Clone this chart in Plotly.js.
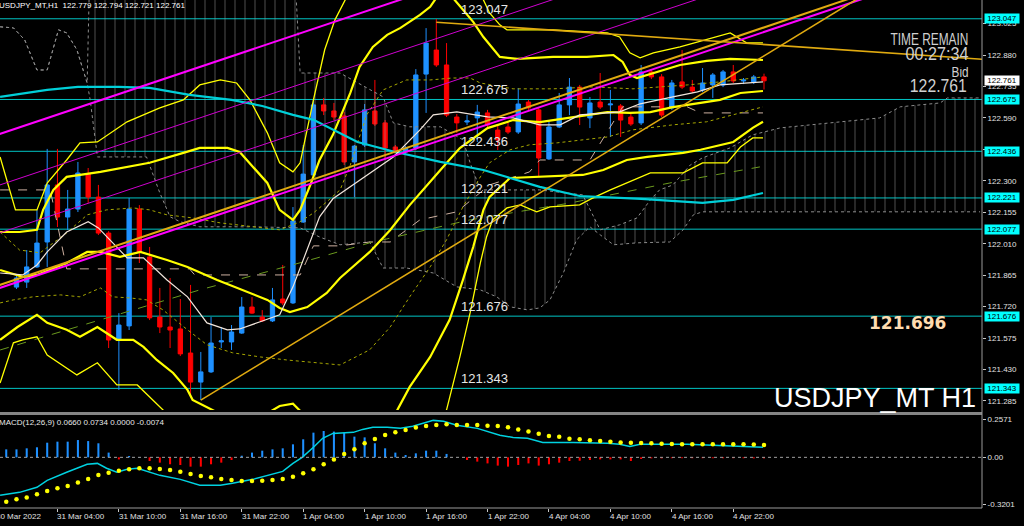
<!DOCTYPE html>
<html>
<head>
<meta charset="utf-8">
<script src="https://cdn.plot.ly/plotly-3.0.1.min.js"></script>
<style>
html,body{margin:0;padding:0;background:#000;overflow:hidden;}
#chart{width:1024px;height:526px;}
</style>
</head>
<body>
<div id="chart"></div>
<script>
// ================= DATA =================
// x = bar index (0 = 30 Mar 22:00, one bar per hour, weekend removed)
const tickIdx  = [0,6,12,18,24,30,36,42,48,54,60,66,72];
const tickText = ['30 Mar 2022','31 Mar 04:00','31 Mar 10:00','31 Mar 16:00','31 Mar 22:00','1 Apr 04:00','1 Apr 10:00','1 Apr 16:00','1 Apr 22:00','4 Apr 04:00','4 Apr 10:00','4 Apr 16:00','4 Apr 22:00'];
const priceTicks = [123.025,122.880,122.735,122.590,122.445,122.300,122.155,122.010,121.865,121.720,121.575,121.430,121.285];
const levels = [123.047,122.675,122.436,122.221,122.077,121.676,121.343];
const levelText = ['123.047','122.675','122.436','122.221','122.077','121.676','121.343'];
const bidPrice = 122.761;
const macdTicks = [0.2571,0,-0.3201];
const macdTickText = ['0.2571','0.00','-0.3201'];

// candles
const barIdx = [2,3,4,5,6,7,8,9,10,11,12,13,14,15,16,17,18,19,20,21,22,23,24,25,26,27,28,29,30,31,32,33,34,35,36,37,38,39,40,41,42,43,44,45,46,47,48,49,50,51,52,53,54,55,56,57,58,59,60,61,62,63,64,65,66,67,68,69,70,71,72,73,74,75];
const barOpen = [121.810,121.833,121.903,122.018,122.281,122.133,122.170,122.331,122.225,122.059,121.566,121.631,122.170,121.949,121.672,121.626,121.617,121.506,121.372,121.419,121.557,121.557,121.598,121.718,121.672,121.654,121.755,121.737,122.110,122.327,122.650,122.622,122.599,122.387,122.465,122.622,122.567,122.456,122.433,122.451,122.792,122.903,122.834,122.594,122.571,122.590,122.613,122.534,122.548,122.525,122.663,122.627,122.401,122.548,122.650,122.732,122.590,122.663,122.650,122.645,122.594,122.567,122.802,122.779,122.636,122.756,122.732,122.719,122.742,122.742,122.802,122.760,122.756,122.779];
const barHigh = [121.861,121.981,122.165,122.447,122.447,122.258,122.387,122.359,122.281,122.068,121.690,122.221,122.188,121.995,121.806,121.852,121.755,121.820,121.511,121.672,121.626,121.635,121.764,121.764,121.704,121.806,121.912,122.179,122.465,122.673,122.682,122.659,122.617,122.465,122.654,122.765,122.580,122.465,122.460,122.815,123.004,123.046,122.935,122.608,122.603,122.650,122.627,122.557,122.567,122.728,122.673,122.640,122.580,122.705,122.774,122.742,122.686,122.797,122.719,122.654,122.608,122.834,122.811,122.792,122.765,122.903,122.765,122.820,122.797,122.811,122.834,122.774,122.788,122.794];
const barLow = [121.801,121.806,121.898,121.903,122.087,122.073,122.156,122.198,122.050,121.529,121.336,121.612,121.921,121.658,121.598,121.529,121.492,121.303,121.289,121.414,121.529,121.520,121.594,121.686,121.649,121.649,121.727,121.732,122.106,122.322,122.603,122.580,122.373,122.225,122.456,122.553,122.396,122.428,122.424,122.442,122.613,122.825,122.594,122.520,122.557,122.479,122.548,122.442,122.516,122.516,122.627,122.318,122.396,122.543,122.603,122.557,122.543,122.631,122.502,122.502,122.553,122.557,122.769,122.594,122.627,122.723,122.705,122.709,122.682,122.732,122.751,122.746,122.746,122.721];
const barClose = [121.852,121.903,122.013,122.281,122.133,122.170,122.336,122.225,122.059,121.566,121.635,122.170,121.972,121.668,121.626,121.612,121.502,121.372,121.419,121.552,121.562,121.603,121.718,121.690,121.654,121.751,121.737,122.115,122.331,122.650,122.622,122.594,122.387,122.460,122.627,122.562,122.451,122.437,122.451,122.788,122.935,122.834,122.603,122.567,122.576,122.617,122.557,122.488,122.525,122.654,122.636,122.405,122.548,122.650,122.732,122.640,122.659,122.640,122.654,122.580,122.562,122.802,122.779,122.603,122.751,122.732,122.714,122.751,122.788,122.802,122.760,122.765,122.779,122.761];

// moving averages
const cyanMaX = [0.4,5.0,8.0,12.0,15.0,18.9,23.0,26.0,29.0,31.0,35.3,39.0,43.4,47.6,53.1,57.0,63.0,69.0,72.0,74.9];
const cyanMaY = [122.687,122.719,122.733,122.733,122.728,122.696,122.673,122.645,122.604,122.581,122.479,122.433,122.387,122.350,122.272,122.230,122.217,122.198,122.212,122.244];
const whiteMaX = [0.4,2.6,4.0,5.0,6.9,9.0,10.0,11.1,12.8,14.4,16.7,18.7,20.6,22.6,23.8,25.8,27.7,29.0,30.4,31.6,32.9,36.5,38.8,41.4,42.7,45.0,48.0,50.5,53.1,55.1,57.0,60.9,62.9,66.1,68.5,70.7,74.9];
const whiteMaY = [121.875,121.866,121.912,121.972,122.064,122.111,122.083,122.028,121.945,121.945,121.843,121.765,121.645,121.613,121.617,121.650,121.682,121.811,121.982,122.134,122.217,122.337,122.410,122.535,122.604,122.618,122.595,122.590,122.558,122.558,122.604,122.618,122.655,122.687,122.710,122.742,122.756];

// yellow bands
const bandMidX = [0.4,2.6,4.0,6.9,8.9,10.2,12.1,14.1,16.7,18.7,21.6,24.8,26.5,27.7,28.7,30.4,32.3,33.6,36.5,38.5,40.4,43.4,45.3,48.0,50.5,53.1,56.4,59.7,61.9,63.9,66.1,68.8,70.7,72.7,74.9];
const bandMidY = [121.889,121.857,121.866,121.921,121.972,121.972,121.949,121.972,121.935,121.903,121.843,121.783,121.751,121.714,121.695,121.718,121.783,121.852,121.972,122.073,122.188,122.350,122.451,122.543,122.580,122.571,122.594,122.617,122.613,122.617,122.640,122.659,122.673,122.705,122.714];
const bandUp2X = [0.4,2.3,4.0,4.6,5.6,6.9,10.2,12.8,15.0,18.3,19.9,22.6,23.8,25.1,26.5,27.7,29.0,29.7,30.7,31.6,32.9,34.6,35.5,36.8,38.2,39.5,41.4,42.4,43.4,44.5,45.6,46.6,47.6,49.2,50.9,54.4,57.7,60.3,61.2,61.9,62.6,64.2,66.8,69.4,71.7,74.9];
const bandUp2Y = [122.064,122.064,122.074,122.166,122.258,122.318,122.341,122.364,122.383,122.429,122.452,122.452,122.433,122.364,122.290,122.166,122.120,122.166,122.281,122.396,122.512,122.705,122.825,122.917,122.973,123.005,123.065,123.102,123.171,123.150,123.088,123.033,122.963,122.871,122.862,122.871,122.871,122.880,122.848,122.788,122.774,122.797,122.834,122.853,122.862,122.857];
const bandLo2X = [0.4,2.1,4.0,5.0,6.9,8.2,9.9,11.8,13.4,14.4,15.7,17.3,18.7,19.2,21.9,24.8,27.7,29.0,30.7,32.9,35.5,38.2,39.2,40.4,42.4,44.3,45.6,46.6,47.6,48.2,50.2,52.8,57.3,59.3,61.6,63.6,67.1,68.8,72.0,73.9,74.9];
const bandLo2Y = [121.567,121.626,121.682,121.645,121.613,121.581,121.626,121.567,121.567,121.534,121.474,121.414,121.336,121.290,121.225,121.179,121.262,121.272,121.193,121.120,121.046,121.152,121.244,121.350,121.488,121.659,121.843,121.995,122.166,122.226,122.313,122.318,122.327,122.350,122.396,122.410,122.429,122.443,122.479,122.544,122.572];
const bandUp3X = [0.4,1.9,4.0,5.0,6.9,8.2,9.9,12.8,16.0,18.3,19.9,21.9,23.5,24.8,26.5,27.7,29.0,29.7,31.0,32.1,33.1,34.1,35.6,39.5,43.4,46.3,47.6,48.2,49.2,49.9,54.4,59.7,60.9,61.9,62.9,64.2,66.8,69.4,71.7,73.3,74.9];
const bandUp3Y = [122.410,122.166,122.166,122.290,122.396,122.475,122.479,122.572,122.636,122.673,122.742,122.765,122.751,122.673,122.521,122.383,122.341,122.383,122.673,122.904,123.042,123.134,123.318,123.503,123.503,123.226,123.134,123.074,123.019,122.996,122.996,122.982,122.963,122.890,122.867,122.890,122.917,122.950,122.982,122.936,122.936];
const bandLo3X = [0.4,1.7,2.6,4.0,5.0,7.9,9.9,11.8,13.8,15.3,18.3,21.9,24.8,27.7,29.0,31.0,34.1,39.5,43.4,44.0,45.3,46.3,47.3,47.9,48.5,49.9,51.2,52.8,54.1,57.0,58.3,60.0,61.6,63.9,67.1,69.0,71.4,72.7,73.9,74.9];
const bandLo3Y = [121.368,121.553,121.567,121.581,121.497,121.405,121.461,121.359,121.359,121.290,121.152,120.912,120.894,121.046,121.050,120.829,120.645,120.755,121.198,121.244,121.488,121.691,121.922,122.041,122.120,122.175,122.189,122.157,122.180,122.189,122.221,122.258,122.290,122.337,122.337,122.383,122.383,122.456,122.498,122.498];

// dotted olive envelopes
const dotUpX = [0.4,2.3,4.3,6.9,8.9,10.8,13.4,15.0,16.7,19.2,21.9,25.1,27.7,29.7,31.0,32.3,33.6,34.6,36.2,37.8,40.1,42.4,44.6,46.3,47.3,50.5,54.4,58.3,62.2,67.5,70.7,74.9];
const dotUpY = [122.064,121.981,121.968,122.060,122.143,122.166,122.175,122.166,122.143,122.129,122.106,122.088,122.074,122.111,122.152,122.203,122.258,122.373,122.604,122.719,122.765,122.765,122.774,122.774,122.751,122.724,122.724,122.733,122.724,122.742,122.756,122.779];
const dotLoX = [0.4,1.7,3.6,6.3,8.2,10.2,11.4,13.1,14.7,16.3,18.7,20.6,23.1,25.8,28.4,31.0,33.6,36.5,38.5,40.4,42.4,44.0,45.6,47.3,48.2,50.2,52.1,54.8,57.7,59.7,62.2,66.1,69.4,72.7,74.9];
const dotLoY = [121.737,121.751,121.765,121.774,121.765,121.806,121.765,121.760,121.751,121.705,121.613,121.544,121.507,121.488,121.474,121.461,121.451,121.521,121.626,121.765,121.903,122.028,122.180,122.318,122.383,122.443,122.466,122.475,122.489,122.502,122.535,122.558,122.572,122.613,122.641];

// long dashed green average
const greenX = [0.4,10.2,19.9,29.7,36.5,46.3,56.1,65.8,74.6];
const greenY = [121.520,121.659,121.797,121.922,122.014,122.120,122.198,122.290,122.364];

// kijun-like dashed step line
const kijunX = [0.4,5.3,6.9,18.9,19.4,29.7,31.0,33.6,36.5,38.5,41.4,45.0,48.2,52.1,53.1,58.0,61.2,67.5,68.8,74.9];
const kijunY = [122.258,122.258,121.894,121.894,121.866,121.866,122.000,122.000,122.018,122.018,122.120,122.157,122.281,122.341,122.396,122.396,122.641,122.641,122.613,122.613];

// cloud boundaries
const cloudTopX = [0.4,1.7,2.8,4.0,5.0,6.1,6.9,7.9,8.9,9.1,29.3,29.7,33.6,35.3,37.8,38.8,40.4,43.4,45.6,46.3,47.3,53.1,57.3,59.0,60.9,62.6,63.9,64.8,66.1,67.8,69.0,71.7,73.9,76.6,86.3,88.3,92.2,92.9,96.1];
const cloudTopY = [123.010,123.005,122.950,122.811,122.811,122.996,122.982,122.904,122.751,123.157,123.157,122.797,122.797,122.751,122.687,122.567,122.549,122.549,122.489,122.383,122.258,122.258,122.235,122.074,122.097,122.129,122.212,122.258,122.281,122.373,122.406,122.452,122.512,122.544,122.590,122.641,122.659,122.682,122.682];
const cloudBotX = [0.4,1.7,2.8,4.0,5.0,6.1,6.9,7.9,8.9,9.2,9.9,14.7,16.0,17.0,18.0,19.9,25.1,29.7,31.6,33.6,36.5,37.8,40.1,42.7,45.0,47.3,48.9,50.2,51.9,53.1,54.1,55.4,56.7,58.0,59.0,60.3,62.6,65.8,67.1,68.1,69.0,96.1];
const cloudBotY = [123.010,123.005,122.950,122.811,122.811,122.996,122.982,122.904,122.751,122.673,122.410,122.410,122.244,122.134,122.111,122.088,122.088,122.083,122.041,122.005,122.018,121.898,121.898,121.875,121.811,121.797,121.765,121.719,121.705,121.714,121.751,121.875,122.028,122.088,122.051,122.005,122.014,122.018,122.074,122.143,122.157,122.157];

// trend lines (two anchor points each)
const magThickAX = [0,41.4],  magThickAY = [122.510,123.165];
const magThinAX  = [0,56.05], magThinAY  = [122.275,123.162];
const magThinBX  = [0,70.7],  magThinBY  = [122.054,123.172];
const magThickBX = [0,86.3],  magThickBY = [121.800,123.165];
const goldAX = [0,86.3],  goldAY = [121.814,123.187];
const goldBX = [20,86.3], goldBY = [121.289,123.202];
const goldCX = [43,98],   goldCY = [123.031,122.855];

// MACD panel
const macdIdx = [1,2,3,4,5,6,7,8,9,10,11,12,13,14,15,16,17,18,19,20,21,22,23,24,25,26,27,28,29,30,31,32,33,34,35,36,37,38,39,40,41,42,43,44,45,46,47,48,49,50,51,52,53,54,55,56,57,58,59,60,61,62,63,64,65,66,67,68,69,70,71,72,73,74,75];
const macdHist = [0.054,0.054,0.061,0.068,0.099,0.106,0.106,0.117,0.110,0.095,0.032,-0.014,0.009,0.002,-0.025,-0.036,-0.047,-0.052,-0.063,-0.063,-0.047,-0.036,-0.018,0.011,0.032,0.045,0.054,0.061,0.088,0.122,0.167,0.178,0.174,0.167,0.140,0.135,0.095,0.061,0.032,0.016,0.027,0.045,0.045,0.023,0.000,-0.018,-0.029,-0.041,-0.056,-0.063,-0.052,-0.041,-0.056,-0.047,-0.036,-0.025,-0.023,-0.018,-0.014,-0.014,-0.014,-0.025,-0.011,-0.007,-0.007,-0.006,-0.006,-0.006,-0.006,-0.006,-0.006,-0.006,-0.006,-0.007,-0.007];
const macdSignal = [-0.300,-0.284,-0.271,-0.250,-0.228,-0.210,-0.194,-0.171,-0.147,-0.120,-0.104,-0.090,-0.081,-0.074,-0.074,-0.079,-0.086,-0.097,-0.113,-0.126,-0.135,-0.147,-0.153,-0.160,-0.160,-0.158,-0.153,-0.147,-0.131,-0.108,-0.081,-0.047,-0.014,0.023,0.054,0.095,0.124,0.151,0.169,0.185,0.201,0.212,0.219,0.223,0.219,0.219,0.219,0.214,0.212,0.203,0.189,0.174,0.160,0.144,0.140,0.126,0.122,0.115,0.110,0.106,0.101,0.099,0.097,0.095,0.092,0.090,0.088,0.088,0.088,0.088,0.088,0.088,0.088,0.086,0.083];
const macdLineX = [0.4,2.3,4.0,5.0,6.9,8.9,9.9,10.8,11.8,12.8,13.8,14.7,16.0,18.0,19.9,21.9,23.1,25.1,27.1,28.0,29.0,29.9,31.0,31.9,32.9,34.9,35.8,36.8,38.2,39.5,40.7,41.9,42.7,43.7,45.0,47.0,49.2,50.5,51.9,53.4,56.4,59.7,60.9,61.9,62.9,67.5,70.4,72.0,74.9];
const macdLineY = [-0.257,-0.237,-0.203,-0.156,-0.101,-0.047,-0.041,-0.074,-0.101,-0.081,-0.074,-0.095,-0.122,-0.149,-0.189,-0.189,-0.176,-0.149,-0.115,-0.095,-0.041,0.000,0.068,0.129,0.162,0.169,0.189,0.203,0.203,0.196,0.210,0.237,0.250,0.244,0.217,0.196,0.149,0.135,0.129,0.101,0.101,0.095,0.088,0.074,0.088,0.088,0.081,0.074,0.068];

// ================= FIGURE =================
const H = 508;                 // plot-area height in px (for paper positions)
const X0 = 0.3906, X1 = 96.289; // x-axis range (bar index)
const pyToPaper = py => 1 - py / H;
const idxToPaper = i => (i - X0) / (X1 - X0);
const SANS = 'Liberation Sans, Arial, sans-serif';

function ln(x, y, color, width, dash, yaxis) {
  return {type:'scatter', mode:'lines', x:x, y:y, xaxis:'x', yaxis:yaxis||'y',
          line:{color:color, width:width, dash:dash||'solid'}, hoverinfo:'skip', showlegend:false};
}

const traces = [];
traces.push(ln(cloudTopX, cloudTopY, '#8c8c8c', 1, 'dot'));
traces.push(Object.assign(ln(cloudBotX, cloudBotY, '#8c8c8c', 1, 'dot'), {
  fill:'tonexty', fillcolor:'rgba(0,0,0,0)',
  fillpattern:{shape:'|', fgcolor:'#9a9a9a', bgcolor:'rgba(0,0,0,0)', fgopacity:0.5, size:10, solidity:0.1}
}));
traces.push(ln(kijunX, kijunY, '#cdb0a0', 1, 'dash'));
traces.push(ln(greenX, greenY, '#6b9a1e', 1, 'dash'));
traces.push(ln(dotUpX, dotUpY, '#a6a600', 1, 'dot'));
traces.push(ln(dotLoX, dotLoY, '#a6a600', 1, 'dot'));
traces.push(ln(bandUp3X, bandUp3Y, '#ffff00', 1.3));
traces.push(ln(bandLo3X, bandLo3Y, '#ffff00', 1.3));
traces.push(ln(bandUp2X, bandUp2Y, '#ffff00', 2.2));
traces.push(ln(bandLo2X, bandLo2Y, '#ffff00', 2.2));
traces.push(ln(bandMidX, bandMidY, '#ffff00', 2.2));
traces.push(ln(cyanMaX, cyanMaY, '#00cfd8', 2.2));
traces.push(ln(whiteMaX, whiteMaY, '#f2e6dc', 1.2));

traces.push({type:'candlestick', x:barIdx, open:barOpen, high:barHigh, low:barLow, close:barClose,
  xaxis:'x', yaxis:'y', hoverinfo:'skip', showlegend:false, whiskerwidth:0,
  increasing:{line:{color:'#1e90ff', width:1}, fillcolor:'#1e90ff'},
  decreasing:{line:{color:'#ff0000', width:1}, fillcolor:'#ff0000'}});

traces.push(ln(magThickAX, magThickAY, '#ff00ff', 2));
traces.push(ln(magThinAX, magThinAY, '#d000d0', 1));
traces.push(ln(magThinBX, magThinBY, '#d000d0', 1));
traces.push(ln(goldAX, goldAY, '#e0aa10', 2));
traces.push(ln(magThickBX, magThickBY, '#ff00ff', 2));
traces.push(ln(goldBX, goldBY, '#e0aa10', 1.6));
traces.push(ln(goldCX, goldCY, '#e0aa10', 1.6));

traces.push({type:'bar', x:macdIdx, y:macdHist, xaxis:'x', yaxis:'y2', width:0.2,
  marker:{color:macdHist.map(v => v >= 0 ? '#1e90ff' : '#ff0000'), line:{width:0}},
  hoverinfo:'skip', showlegend:false});
traces.push(ln(macdLineX, macdLineY, '#00d2e0', 1.5, 'solid', 'y2'));
traces.push({type:'scatter', mode:'markers', x:macdIdx, y:macdSignal, xaxis:'x', yaxis:'y2',
  marker:{color:'#ffff00', size:4.5}, hoverinfo:'skip', showlegend:false});

// ---- shapes ----
const shapes = [];
levels.forEach(v => shapes.push({type:'line', xref:'paper', x0:0, x1:1, yref:'y', y0:v, y1:v,
  line:{color:'#00c4c4', width:1}, layer:'below'}));
shapes.push({type:'line', xref:'paper', x0:0, x1:1, yref:'y2', y0:0, y1:0, line:{color:'#a0a0a0', width:1, dash:'dot'}});
shapes.push({type:'rect', xref:'paper', x0:0, x1:1, yref:'paper', y0:pyToPaper(415), y1:pyToPaper(412),
  fillcolor:'#858585', line:{width:0}});
shapes.push({type:'line', xref:'paper', x0:1, x1:1, yref:'paper', y0:0, y1:1, line:{color:'#9a9a9a', width:1}});
shapes.push({type:'line', xref:'paper', x0:0, x1:1, yref:'paper', y0:0, y1:0, line:{color:'#9a9a9a', width:1}});

// ---- annotations ----
const ann = [];
const txt = (o) => Object.assign({showarrow:false, borderpad:0}, o);
ann.push(txt({xref:'paper', yref:'paper', x:0, y:1, xanchor:'left', yanchor:'top', xshift:-2,
  text:'USDJPY_MT,H1  122.779 122.794 122.721 122.761', font:{family:SANS, size:8, color:'#ffffff'}}));
ann.push(txt({xref:'paper', yref:'paper', x:0, y:pyToPaper(422), xanchor:'left', yanchor:'middle', xshift:-2,
  text:'MACD(12,26,9) 0.0660 0.0734 0.0000 -0.0074', font:{family:SANS, size:8, color:'#e8e8e8'}}));
// narrow info texts (compressed after drawing to the widths seen in the reference)
const narrowTexts = [
  {text:'TIME REMAIN', cx:929,   cy:39,   size:16, w:78},
  {text:'00:27:34',    cx:936.5, cy:53.5, size:18, w:63},
  {text:'Bid',         cx:959.5, cy:72,   size:14, w:17},
  {text:'122.761',     cx:938.5, cy:85,   size:19, w:57}
];
narrowTexts.forEach(n => ann.push(txt({xref:'paper', yref:'paper', x:1, y:pyToPaper(n.cy), xanchor:'center', yanchor:'middle',
  xshift:n.cx - 982, height:Math.round(n.size * 0.72), text:n.text, font:{family:SANS, size:n.size, color:'#d0d0d0'}})));
ann.push(txt({xref:'paper', yref:'paper', x:1, y:pyToPaper(322.5), xanchor:'right', yanchor:'middle', xshift:-35,
  text:'<b>121.696</b>', font:{family:'DejaVu Sans, sans-serif', size:17, color:'#ffdcb0'}}));
ann.push(txt({xref:'paper', yref:'paper', x:1, y:pyToPaper(398), xanchor:'right', yanchor:'middle', xshift:-5,
  text:'USDJPY_MT H1', font:{family:SANS, size:27, color:'#ffffff'}}));
levels.forEach((v, k) => {
  ann.push(txt({xref:'paper', yref:'y', x:460/982, y:v, xanchor:'left', yanchor:'bottom', yshift:1,
    text:levelText[k], font:{family:SANS, size:13, color:'#e6e6e6'}}));
  ann.push(txt({xref:'paper', yref:'y', x:1, y:v, xanchor:'left', yanchor:'middle', xshift:2,
    text:levelText[k], width:34, height:9, bgcolor:'#00ffff', font:{family:SANS, size:8, color:'#000000'}}));
});
ann.push(txt({xref:'paper', yref:'y', x:1, y:bidPrice, xanchor:'left', yanchor:'middle', xshift:2,
  text:bidPrice.toFixed(3), width:34, height:9, bgcolor:'#ffffff', font:{family:SANS, size:8, color:'#000000'}}));
tickIdx.forEach((v, k) => ann.push(txt({xref:'paper', yref:'paper', x:idxToPaper(v), y:pyToPaper(516),
  xanchor:'left', yanchor:'middle', xshift:-1, text:tickText[k], font:{family:SANS, size:8, color:'#e0e0e0'}})));

const layout = {
  width:1024, height:526,
  margin:{l:0, r:42, t:0, b:18, pad:0},
  paper_bgcolor:'#000000', plot_bgcolor:'#000000',
  showlegend:false, boxgap:0.4,
  font:{family:SANS, size:8, color:'#e0e0e0'},
  xaxis:{range:[X0, X1], anchor:'y2', showgrid:false, zeroline:false, showline:false,
    tickmode:'array', tickvals:tickIdx, ticks:'outside', ticklen:3, tickcolor:'#c8c8c8',
    showticklabels:false, rangeslider:{visible:false}, fixedrange:true},
  yaxis:{domain:[1 - 410/H, 1], range:[121.2433, 123.1336], side:'right', anchor:'x',
    showgrid:false, zeroline:false, showline:false,
    tickmode:'array', tickvals:priceTicks, ticktext:priceTicks.map(v => v.toFixed(3)),
    ticks:'outside', ticklen:3, tickcolor:'#c8c8c8', tickfont:{family:SANS, size:8, color:'#e0e0e0'}},
  yaxis2:{domain:[0, 93/H], range:[-0.3428, 0.2864], side:'right', anchor:'x',
    showgrid:false, zeroline:false, showline:false,
    tickmode:'array', tickvals:macdTicks, ticktext:macdTickText,
    ticks:'outside', ticklen:3, tickcolor:'#c8c8c8', tickfont:{family:SANS, size:8, color:'#e0e0e0'}},
  shapes:shapes,
  annotations:ann
};

Plotly.newPlot('chart', traces, layout, {staticPlot:true, displayModeBar:false}).then(() => {
  document.querySelectorAll('text.annotation-text').forEach(t => {
    const fs = parseFloat(t.style.fontSize || t.getAttribute('font-size') || '0');
    const n = narrowTexts.find(o => o.text === t.textContent && Math.abs(o.size - fs) < 0.5);
    if (n) {
      t.setAttribute('textLength', n.w);
      t.setAttribute('lengthAdjust', 'spacingAndGlyphs');
    }
  });
});
</script>
</body>
</html>
